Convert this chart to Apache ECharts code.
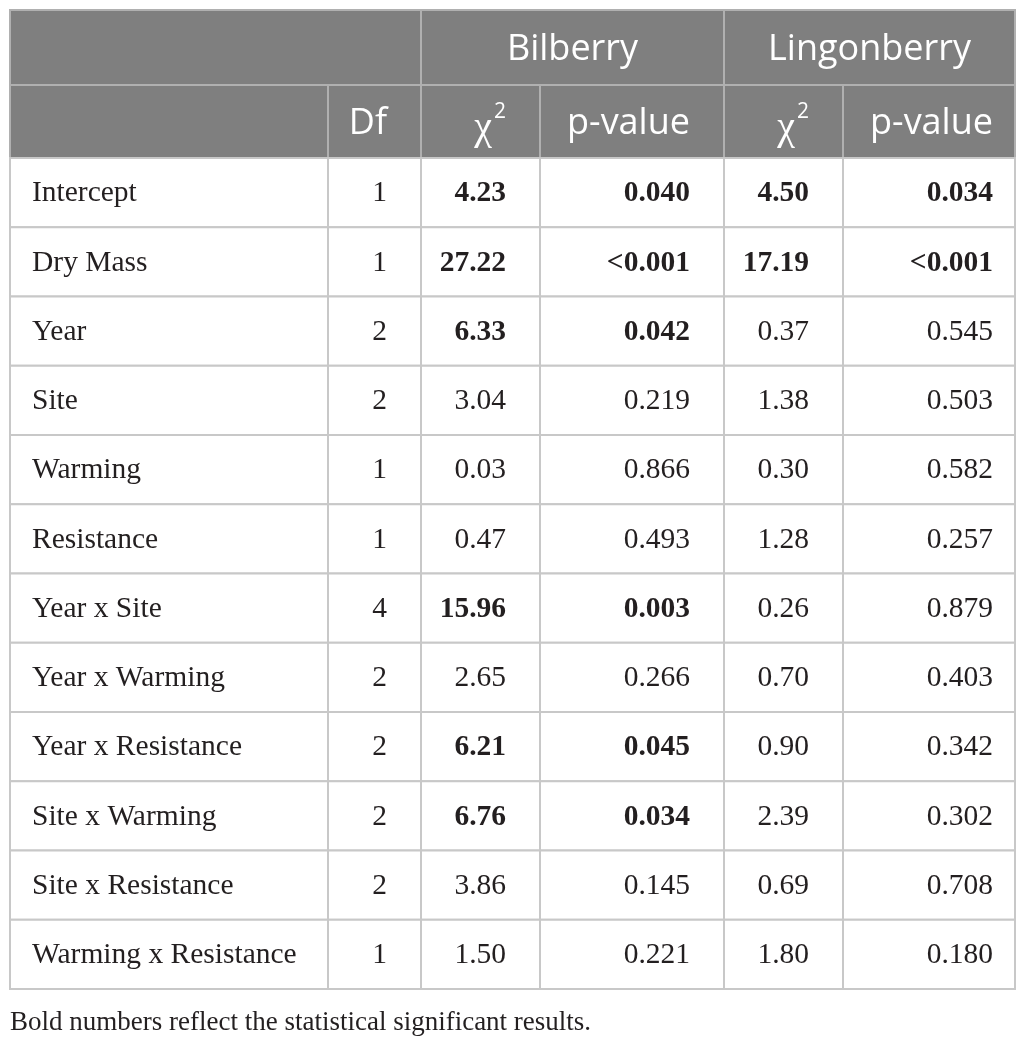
<!DOCTYPE html>
<html>
<head>
<meta charset="utf-8">
<script src="https://cdn.jsdelivr.net/npm/echarts@6/dist/echarts.min.js"></script>
<style>
  html, body { margin: 0; padding: 0; background: #fff; }
  #main { width: 1026px; height: 1042px; }
</style>
</head>
<body>
<div id="main"></div>
<script>
// table content
var species = ['Bilberry', 'Lingonberry'];
var colHeads = ['', 'Df', 'χ2', 'p-value', 'χ2', 'p-value'];
var terms = ['Intercept', 'Dry Mass', 'Year', 'Site', 'Warming', 'Resistance',
    'Year x Site', 'Year x Warming', 'Year x Resistance', 'Site x Warming',
    'Site x Resistance', 'Warming x Resistance'];
var df = [1, 1, 2, 2, 1, 1, 4, 2, 2, 2, 2, 1];
var bilChi = ['4.23', '27.22', '6.33', '3.04', '0.03', '0.47', '15.96', '2.65', '6.21', '6.76', '3.86', '1.50'];
var bilP = ['0.040', '<0.001', '0.042', '0.219', '0.866', '0.493', '0.003', '0.266', '0.045', '0.034', '0.145', '0.221'];
var linChi = ['4.50', '17.19', '0.37', '1.38', '0.30', '1.28', '0.26', '0.70', '0.90', '2.39', '0.69', '1.80'];
var linP = ['0.034', '<0.001', '0.545', '0.503', '0.582', '0.257', '0.879', '0.403', '0.342', '0.302', '0.708', '0.180'];
var footnote = 'Bold numbers reflect the statistical significant results.';

// layout (axis units = px)
var colWidths = [318, 93, 119, 184, 119, 172];
var rowHeights = [75, 73];
for (var k = 0; k < terms.length; k++) rowHeights.push(69.25);
var padRight = [0, 34, 34, 34, 34, 22];

function cum(arr) {
    var out = [0];
    arr.forEach(function (v) { out.push(out[out.length - 1] + v); });
    return out;
}
var xs = cum(colWidths);
var ys = cum(rowHeights);

function isSig(p) {
    return p.charAt(0) === '<' || Number(p) < 0.05;
}

// build cells
var cells = [];
cells.push({ c0: 0, c1: 2, r: 0, text: '', head: true });
cells.push({ c0: 2, c1: 4, r: 0, text: species[0], head: true, center: true });
cells.push({ c0: 4, c1: 6, r: 0, text: species[1], head: true, center: true });
colHeads.forEach(function (t, i) {
    cells.push({ c0: i, c1: i + 1, r: 1, text: t, head: true, chi: t === 'χ2' });
});
terms.forEach(function (t, i) {
    var r = i + 2;
    var bb = isSig(bilP[i]), lb = isSig(linP[i]);
    cells.push({ c0: 0, c1: 1, r: r, text: t });
    cells.push({ c0: 1, c1: 2, r: r, text: String(df[i]) });
    cells.push({ c0: 2, c1: 3, r: r, text: bilChi[i], bold: bb });
    cells.push({ c0: 3, c1: 4, r: r, text: bilP[i], bold: bb });
    cells.push({ c0: 4, c1: 5, r: r, text: linChi[i], bold: lb });
    cells.push({ c0: 5, c1: 6, r: r, text: linP[i], bold: lb });
});

function renderCell(params, api) {
    var c = cells[params.dataIndex];
    var p0 = api.coord([api.value(0), api.value(2)]);
    var p1 = api.coord([api.value(1), api.value(3)]);
    var w = p1[0] - p0[0], h = p1[1] - p0[1];
    var children = [{
        type: 'rect',
        shape: { x: p0[0], y: p0[1], width: w, height: h },
        style: { fill: c.head ? '#7f7f7f' : '#fff', stroke: c.head ? '#b0b0b0' : '#c8c8c8', lineWidth: 2 }
    }];
    if (c.text) {
        var tx, align;
        if (c.center) { tx = p0[0] + w / 2; align = 'center'; }
        else if (c.c0 === 0) { tx = p0[0] + 22; align = 'left'; }
        else { tx = p1[0] - padRight[c.c0]; align = 'right'; }
        var style = {
            x: tx, y: p0[1] + h / 2 + (c.head ? 2 : 1),
            align: align, verticalAlign: 'middle'
        };
        if (c.chi) {
            style.text = '{c|χ}{s|2}';
            style.rich = {
                c: { fontFamily: 'Liberation Serif', fontSize: 40, fill: '#fff', lineHeight: 44, padding: [10, 2, 0, 0] },
                s: { fontFamily: 'Open Sans', fontSize: 21, fill: '#fff', verticalAlign: 'top', lineHeight: 22 }
            };
        } else if (c.head) {
            style.text = c.text;
            style.fill = '#fff';
            style.fontFamily = 'Open Sans';
            style.fontSize = 36;
        } else {
            style.text = c.text;
            style.fill = '#231f20';
            style.fontFamily = 'Liberation Serif';
            style.fontSize = 29.5;
            style.fontWeight = c.bold ? 'bold' : 'normal';
        }
        children.push({ type: 'text', style: style, z2: 10 });
    }
    return { type: 'group', children: children };
}

var chart = echarts.init(document.getElementById('main'));
chart.setOption({
    backgroundColor: '#fff',
    animation: false,
    title: {
        text: footnote,
        left: 5,
        top: 1004,
        textStyle: { fontFamily: 'Liberation Serif', fontSize: 27, fontWeight: 'normal', color: '#231f20' }
    },
    grid: { left: 10, top: 10, width: xs[xs.length - 1], height: ys[ys.length - 1] },
    xAxis: { type: 'value', min: 0, max: xs[xs.length - 1], show: false },
    yAxis: { type: 'value', min: 0, max: ys[ys.length - 1], inverse: true, show: false },
    series: [{
        type: 'custom',
        clip: false,
        renderItem: renderCell,
        encode: { x: [0, 1], y: [2, 3] },
        data: cells.map(function (c) { return [xs[c.c0], xs[c.c1], ys[c.r], ys[c.r + 1]]; })
    }]
});
</script>
</body>
</html>
